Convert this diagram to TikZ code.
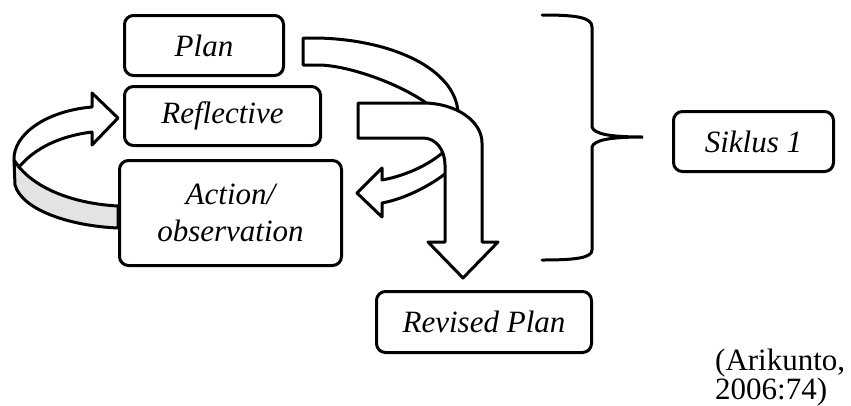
\documentclass[tikz,border=0pt]{standalone}
\usepackage{fontspec}
\setmainfont{Liberation Serif}
\tikzset{
  stagebox/.style={draw, line width=3pt, rounded corners=9pt, align=center, inner sep=0pt,
    font=\fontsize{31}{37}\selectfont\itshape},
  blockarrow/.style={draw, fill=white, line width=3pt, line join=round},
}
\begin{document}
\begin{tikzpicture}[x=1pt, y=-1pt]
  \useasboundingbox (0,0) rectangle (851,405);

  %cycle ribbon (front strip, then back band with head)
  \draw[blockarrow, fill=gray!22] (19,167) .. controls (40,192) and (80,204) .. (118,206) -- (118,228)
        .. controls (70,226) and (22,210) .. (15,185) -- (14,160) -- cycle;
  \draw[blockarrow] (118,118) -- (92,93) -- (92,107) .. controls (45,111) and (13,135) .. (14,160)
        -- (19,167) .. controls (35,148) and (60,136) .. (92,132) -- (92,145) -- cycle;

  %stages
  \node[stagebox, minimum width=159pt, minimum height=60pt, name=plan      ] at (204  , 45.5) {Plan};
  \node[stagebox, minimum width=196pt, minimum height=59pt, name=reflective] at (222.5,116  ) {Reflective};
  \node[stagebox, minimum width=222pt, minimum height=105pt, name=action    ] at (230.5,213  ) {Action/\\observation};
  \node[stagebox, minimum width=215pt, minimum height=61pt, name=revised   ] at (484  ,322  ) {Revised Plan};
  \node[stagebox, minimum width=160pt, minimum height=60pt, name=siklus    ] at (753.5,141.5) {Siklus 1};

  %block arrows
  \draw[blockarrow] (303,38) -- (318,38) .. controls (395,40) and (455,70) .. (458,112) -- (458,116)
        -- (442,116) .. controls (415,88) and (350,65) .. (318,65) -- (303,65) -- cycle;
  \draw[blockarrow] (357,193) -- (382,168) -- (382,180) .. controls (410,175) and (440,160) .. (455,140)
        -- (460,160) .. controls (445,178) and (410,198) .. (382,203) -- (382,217) -- cycle;
  \draw[blockarrow] (358,103) -- (423,103) .. controls (456,103) and (482,121) .. (482,143) -- (482,242)
        -- (498,242) -- (463,278) -- (428,242) -- (445,242) -- (445,165)
        .. controls (445,150) and (436,138) .. (423,138) -- (358,138) -- cycle;

  %brace
  \coordinate (bracetip) at (643,137);
  \draw[line width=3pt, line cap=round] (542,15) .. controls (575,15) and (592,17) .. (592,27) -- (592,127)
        .. controls (594,134) and (610,137) .. (bracetip)
        .. controls (610,137) and (594,140) .. (592,147) -- (592,250)
        .. controls (592,258) and (575,260) .. (542,260);

  %source
  \node[anchor=north west, align=left, inner sep=0pt, font=\fontsize{31}{28}\selectfont, name=source]
        at (715,349) {(Arikunto,\\2006:74)};
\end{tikzpicture}
\end{document}
